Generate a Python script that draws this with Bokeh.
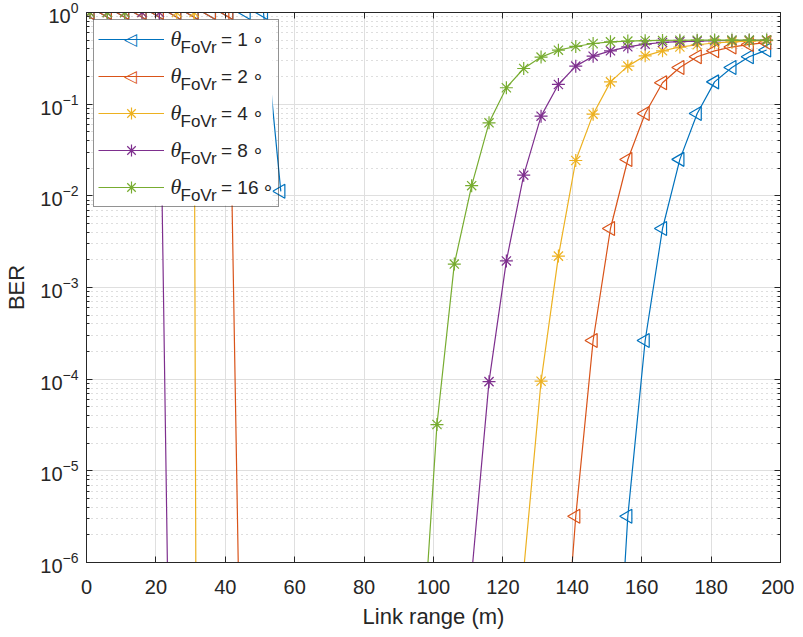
import math
from bokeh.plotting import figure
from bokeh.models import (Range1d, FixedTicker, LinearAxis, LogAxis, Legend,
                          LegendItem, Label, CustomJSTickFormatter, BoxAnnotation)
from bokeh.embed import file_html
from bokeh.resources import INLINE

nan = float("nan")

# Link range samples (m)
link_range = [1, 6, 11, 16, 21, 26, 31, 36, 41, 46,
              51, 56, 61, 66, 71, 76, 81, 86, 91, 96,
              101, 106, 111, 116, 121, 126, 131, 136, 141, 146,
              151, 156, 161, 166, 171, 176, 181, 186, 191, 196]

# BER values (NaN = zero BER, not drawn on the log axis)
ber_fov1 = [1, 1, 1, 1, 1, 1, 1, 1, 1, 1,
            1, 0.0112, nan, nan, nan, nan, nan, nan, nan, nan,
            nan, nan, nan, nan, nan, nan, nan, nan, nan, nan,
            2.2e-9, 3.2e-6, 2.64e-4, 4.4e-3, 0.025, 0.079, 0.175, 0.251, 0.329, 0.39]
ber_fov2 = [1, 1, 1, 1, 1, 1, 1, 1, 1, 1e-11,
            nan, nan, nan, nan, nan, nan, nan, nan, nan, nan,
            nan, nan, nan, nan, nan, nan, nan, 1e-8, 3.2e-6, 2.64e-4,
            4.4e-3, 0.0249, 0.079, 0.171, 0.251, 0.329, 0.382, 0.42, 0.448, 0.47]
ber_fov4 = [1, 1, 1, 1, 1, 1, 1, 1e-60, nan, nan,
            nan, nan, nan, nan, nan, nan, nan, nan, nan, nan,
            nan, nan, nan, nan, nan, 8.3e-7, 9.5e-5, 2.2e-3, 0.0243, 0.0778,
            0.175, 0.26, 0.337, 0.382, 0.42, 0.445, 0.465, 0.478, 0.487, 0.493]
ber_fov8 = [1, 1, 1, 1, 1, 1e-13, nan, nan, nan, nan,
            nan, nan, nan, nan, nan, nan, nan, nan, nan, nan,
            nan, nan, 7.4e-7, 9.4e-5, 1.95e-3, 0.0168, 0.074, 0.164, 0.26, 0.334,
            0.382, 0.422, 0.452, 0.471, 0.481, 0.488, 0.492, 0.495, 0.497, 0.498]
ber_fov16 = [1, 1, 1, nan, nan, nan, nan, nan, nan, nan,
             nan, nan, nan, nan, nan, nan, nan, nan, nan, 4e-8,
             3.2e-5, 1.8e-3, 0.0129, 0.0626, 0.151, 0.245, 0.326, 0.388, 0.426, 0.459,
             0.479, 0.488, 0.493, 0.496, 0.498, 0.499, 0.5, 0.5, 0.5, 0.5]

fov_labels = ["= 1\u2009\u2218", "= 2\u2009\u2218", "= 4\u2009\u2218",
              "= 8\u2009\u2218", "= 16\u2009\u2218"]
x_ticks = [0, 20, 40, 60, 80, 100, 120, 140, 160, 180, 200]
y_ticks = [1e-6, 1e-5, 1e-4, 1e-3, 1e-2, 1e-1, 1]
y_minor = [m * 10.0 ** e for e in range(-6, 0) for m in range(2, 10)]

series = [
    (ber_fov1, "#0072BD", "triangle"),
    (ber_fov2, "#D95319", "triangle"),
    (ber_fov4, "#EDB120", "asterisk"),
    (ber_fov8, "#7E2F8E", "asterisk"),
    (ber_fov16, "#77AC30", "asterisk"),
]

TXT = "#262626"
FONT = "Liberation Sans"
FW, FH = 694, 550
X0, X1, LOG0, LOG1 = 0, 200, -6, 0


def frame_px_to_data(px, py):
    """Convert a pixel offset from the frame's top-left corner into data units."""
    xd = X0 + (X1 - X0) * px / FW
    yd = 10 ** (LOG1 - (LOG1 - LOG0) * py / FH)
    return xd, yd


p = figure(frame_width=FW, frame_height=FH, x_range=Range1d(X0, X1),
           y_range=Range1d(10 ** LOG0, 10 ** LOG1), y_axis_type="log", output_backend="svg",
           toolbar_location=None, min_border_left=86, min_border_right=14,
           min_border_top=12, min_border_bottom=30)
p.background_fill_color = "white"
p.border_fill_color = "white"
p.outline_line_color = TXT
p.outline_line_width = 1

# axes
xt = FixedTicker(ticks=x_ticks)
yt = FixedTicker(ticks=y_ticks, minor_ticks=y_minor)
p.xaxis.ticker = xt
p.yaxis.ticker = yt
for ax in (p.xaxis[0], p.yaxis[0]):
    ax.axis_line_color = TXT
    ax.major_tick_line_color = TXT
    ax.minor_tick_line_color = TXT
    ax.major_tick_in = 6
    ax.major_tick_out = 0
    ax.minor_tick_in = 3
    ax.minor_tick_out = 0
    ax.major_label_text_font = FONT
    ax.major_label_text_font_size = "20px"
    ax.major_label_text_color = TXT
    ax.axis_label_text_font = FONT
    ax.axis_label_text_font_size = "22px"
    ax.axis_label_text_font_style = "normal"
    ax.axis_label_text_color = TXT
p.xaxis.axis_label = "Link range (m)"
p.yaxis.axis_label = "BER"
p.xaxis.major_label_standoff = 17
p.xaxis.axis_label_standoff = 7
p.yaxis.major_label_standoff = 8
p.yaxis.axis_label_standoff = 8

blank = CustomJSTickFormatter(code="return ''")
top_ax = LinearAxis(ticker=xt, formatter=blank, major_tick_in=6, major_tick_out=0,
                    minor_tick_in=0, minor_tick_out=0, axis_line_color=TXT,
                    major_tick_line_color=TXT, major_label_standoff=0)
right_ax = LogAxis(ticker=yt, formatter=blank, major_tick_in=6, major_tick_out=0,
                   minor_tick_in=3, minor_tick_out=0, axis_line_color=TXT,
                   major_tick_line_color=TXT, minor_tick_line_color=TXT,
                   major_label_standoff=0)
p.add_layout(top_ax, "above")
p.add_layout(right_ax, "right")

# grids
p.xgrid.ticker = xt
p.ygrid.ticker = yt
p.xgrid.grid_line_color = "#DFDFDF"
p.ygrid.grid_line_color = "#DFDFDF"
p.ygrid.minor_grid_line_color = "#BDBDBD"
p.ygrid.minor_grid_line_dash = "1 4"

items = []
for (vals, color, mk), lab in zip(series, fov_labels):
    lr = p.line(link_range, vals, line_color=color, line_width=1.2)
    if mk == "triangle":
        sr = p.scatter(link_range, vals, marker="triangle", size=14, angle=math.pi / 2,
                       fill_color=None, line_color=color, line_width=1.2)
        items.append(LegendItem(label=lab, renderers=[lr]))
    else:
        sr = p.scatter(link_range, vals, marker="asterisk", size=13,
                       line_color=color, line_width=1.2)
        items.append(LegendItem(label=lab, renderers=[lr, sr]))

# opaque white backing for the legend (the legend itself is transparent so the
# extra label pieces drawn on top of this backing remain visible)
bl, bt = frame_px_to_data(7, 7)
br, bb = frame_px_to_data(186, 193)
p.add_layout(BoxAnnotation(left=bl, right=br, top=bt, bottom=bb,
                           fill_color="white", fill_alpha=1, line_color=None))

# theta_FoVr pieces of the legend labels, and left-pointing triangle samples
for k, (vals, color, mk) in enumerate(series):
    row_py = 26 + 37 * k
    tx, ty = frame_px_to_data(84, row_py)
    p.add_layout(Label(x=tx, y=ty, text="\u03b8",
                       text_font="Liberation Serif", text_font_style="italic",
                       text_font_size="22px", text_color=TXT, level="overlay",
                       text_baseline="middle", text_align="left"))
    fx, fy = frame_px_to_data(94, row_py + 9)
    p.add_layout(Label(x=fx, y=fy, text="FoVr",
                       text_font=FONT, text_font_size="17px", text_color=TXT,
                       level="overlay", text_baseline="middle", text_align="left"))
    if mk == "triangle":
        gx, gy = frame_px_to_data(44, row_py)
        p.add_layout(Label(x=gx, y=gy, text="\u25c1",
                           text_font="DejaVu Sans", text_font_size="17px",
                           text_color=color, level="overlay",
                           text_baseline="middle", text_align="center"))

legend = Legend(items=items, location="top_left", margin=7, padding=4,
                spacing=7, glyph_height=30, label_height=30, glyph_width=66,
                label_standoff=57, label_width=49,
                label_text_font=FONT, label_text_font_size="19px",
                label_text_color=TXT, border_line_color=TXT, border_line_width=1,
                background_fill_alpha=0)
p.add_layout(legend)

open("out.html", "w").write(file_html(p, INLINE))
